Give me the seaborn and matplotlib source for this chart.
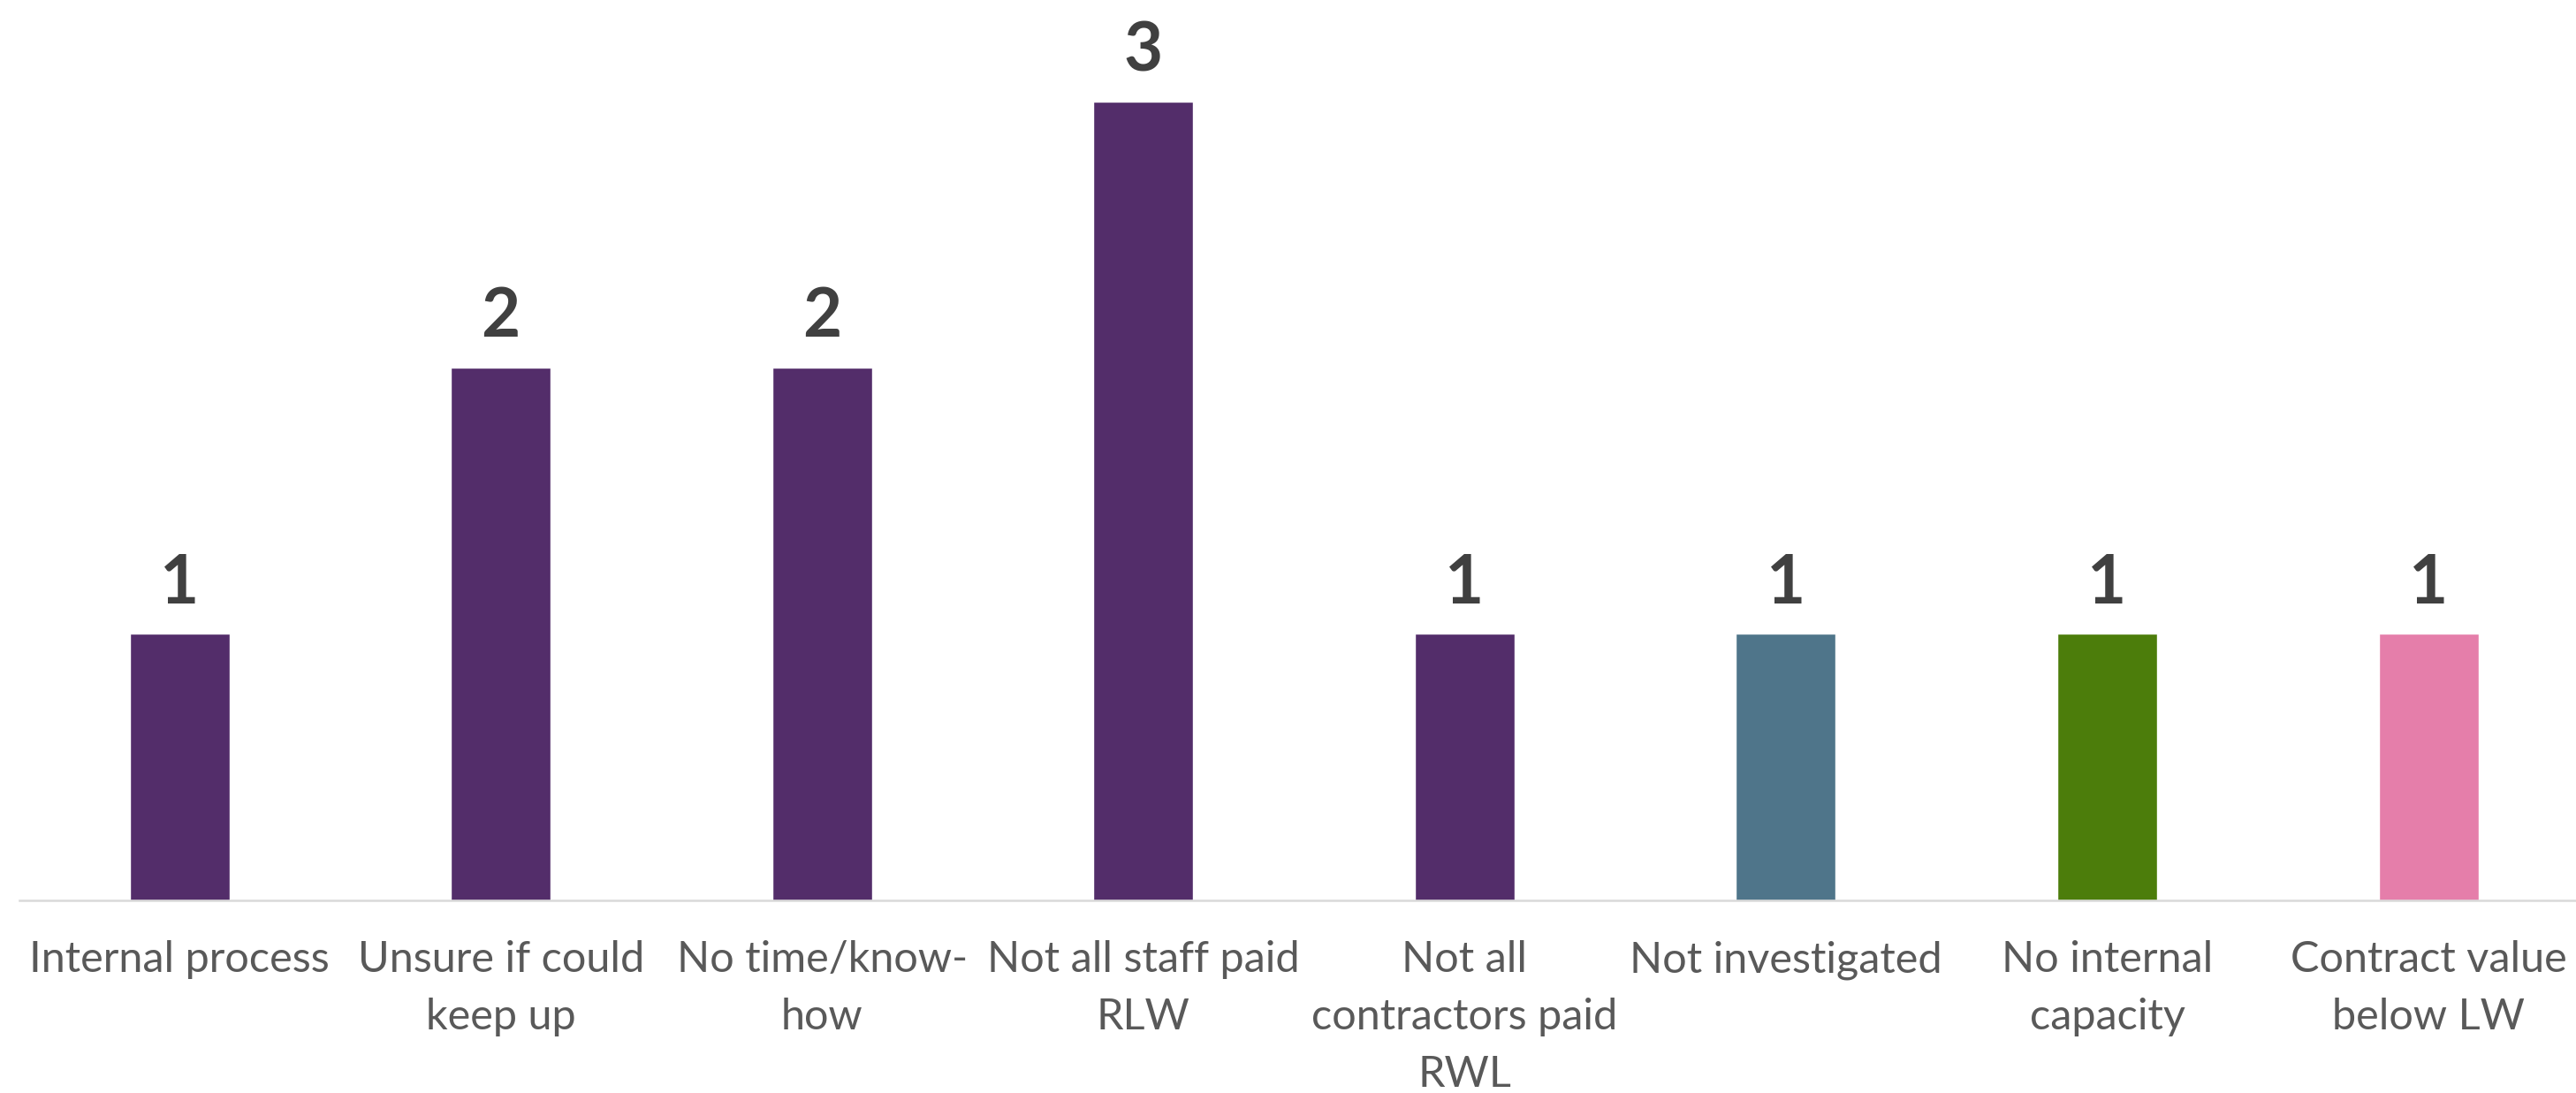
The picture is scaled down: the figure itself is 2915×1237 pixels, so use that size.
import matplotlib
matplotlib.use("Agg")
import matplotlib.pyplot as plt
import seaborn as sns
import pandas as pd

# Reasons given, number of responses, and bar colours
reasons = [
    "Internal process",
    "Unsure if could\nkeep up",
    "No time/know-\nhow",
    "Not all staff paid\nRLW",
    "Not all\ncontractors paid\nRWL",
    "Not investigated",
    "No internal\ncapacity",
    "Contract value\nbelow LW",
]
counts = [1, 2, 2, 3, 1, 1, 1, 1]
bar_colors = ["#532D6A", "#532D6A", "#532D6A", "#532D6A",
              "#532D6A", "#4F758A", "#4C7D0B", "#E57EAA"]

df = pd.DataFrame({"reason": reasons, "count": counts})

sns.set_theme(style="white")
plt.rcParams["font.family"] = ["Lato", "DejaVu Sans"]

W, H, DPI = 2915, 1237, 100
fig = plt.figure(figsize=(W / DPI, H / DPI), dpi=DPI)
ax = fig.add_axes([22 / W, (H - 1018.5) / H, 1 - 22 / W, 1018.5 / H])

sns.barplot(data=df, x="reason", y="count", hue="reason",
            palette=bar_colors, width=0.311, legend=False,
            saturation=1, ax=ax)

ax.set_xlim(-0.498, 7.459)
ax.set_ylim(0, 3.382)

# Value labels above each bar
for i, v in enumerate(counts):
    ax.annotate(f"{v}", xy=(i, v), xytext=(0, 25), textcoords="offset points",
                ha="center", va="baseline", fontsize=55, fontweight="bold",
                color="#404040")

for side in ["left", "right", "top"]:
    ax.spines[side].set_visible(False)
ax.spines["bottom"].set_color("#D9D9D9")
ax.spines["bottom"].set_linewidth(1.8)

ax.set_xlabel("")
ax.set_ylabel("")
ax.set_yticks([])
ax.tick_params(axis="x", length=0, pad=33, labelsize=35, labelcolor="#595959")
for lbl in ax.get_xticklabels():
    lbl.set_linespacing(1.58)

fig.savefig("out.png", dpi=DPI, facecolor="white")
